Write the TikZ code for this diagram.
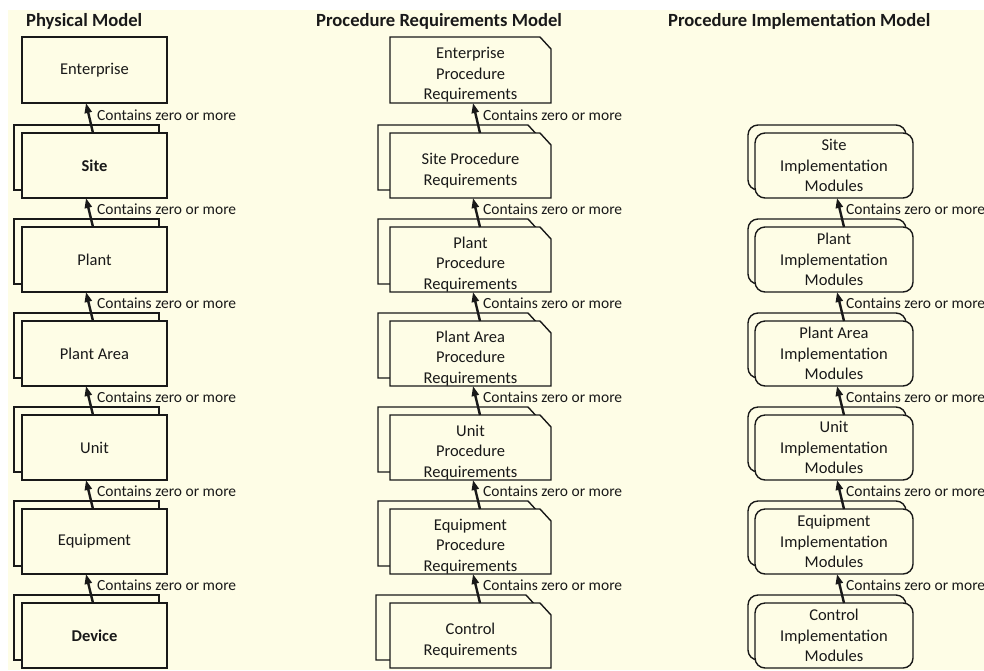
\documentclass[tikz,border=0pt]{standalone}
\usepackage{fontspec}
\setmainfont{Carlito}
\usetikzlibrary{arrows.meta,backgrounds}
\definecolor{bg}{RGB}{254,253,230}
\definecolor{ink}{RGB}{25,25,25}
\newcommand\chamf[1]{\filldraw[draw=ink,fill=bg,line width=1.4pt,line join=miter]
  (#1.north west) -- ([xshift=-11pt]#1.north east) -- ([yshift=-12pt]#1.north east)
  -- (#1.south east) -- (#1.south west) -- cycle;}
\begin{document}
\begin{tikzpicture}[x=1pt,y=-1pt,
  every node/.style={text=ink},
  boxframe/.style={draw=ink,line width=1.4pt,fill=bg,minimum height=65pt,inner sep=0pt,outer sep=0pt,anchor=north west,align=center,font=\fontsize{16.5}{20.5}\selectfont},
  phys/.style={boxframe,rectangle,minimum width=145pt},
  req/.style={boxframe,rectangle,draw=none,fill=none,minimum width=161pt},
  reqtext/.style={inner sep=0pt,align=center,font=\fontsize{16.5}{20.5}\selectfont,yshift=-5pt},
  impl/.style={boxframe,rectangle,rounded corners=10pt,minimum width=158pt},
  lbl/.style={anchor=west,inner sep=0pt,font=\fontsize{15.5}{18}\selectfont},
  conn/.style={draw=ink,line width=2.4pt,-{Triangle[length=10pt,width=7pt]}},
  ttl/.style={anchor=west,inner sep=0pt,font=\fontsize{18.6}{20}\selectfont\bfseries}]
\useasboundingbox (0,0) rectangle (984,670);

% titles
\node[ttl] (t1) at (26,21) {Physical Model};
\node[ttl] (t2) at (316,21) {Procedure Requirements Model};
\node[ttl] (t3) at (668,21) {Procedure Implementation Model};

% ---------- Physical model ----------
\node[phys,minimum height=66pt] (p0) at (22,37) {Enterprise};
\node[phys] (p1b) at (14,125) {};
\node[phys] (p1) at (22,133) {\bfseries Site};
\node[phys] (p2b) at (14,219) {};
\node[phys] (p2) at (22,227) {Plant};
\node[phys] (p3b) at (14,313) {};
\node[phys] (p3) at (22,321) {Plant Area};
\node[phys] (p4b) at (14,407) {};
\node[phys] (p4) at (22,415) {Unit};
\node[phys] (p5b) at (14,501) {};
\node[phys] (p5) at (22,509) {Equipment};
\node[phys] (p6b) at (14,595) {};
\node[phys] (p6) at (22,603) {\bfseries Device};

\foreach \a/\b in {p1/p0,p2/p1,p3/p2,p4/p3,p5/p4,p6/p5}
  \draw[conn] ([xshift=71pt]\a.north west) -- ([xshift=64pt]\b.south west);
\foreach \i/\y in {1/115,2/209,3/303,4/397,5/491,6/585}
  \node[lbl] (pl\i) at (97,\y) {Contains zero or more};

% ---------- Procedure requirements model ----------
\node[req,minimum height=66pt] (r0) at (390,37) {};
\node[req] (r1b) at (378,125) {};
\node[req] (r1) at (390,133) {};
\node[req] (r2b) at (378,219) {};
\node[req] (r2) at (390,227) {};
\node[req] (r3b) at (378,313) {};
\node[req] (r3) at (390,321) {};
\node[req] (r4b) at (378,407) {};
\node[req] (r4) at (390,415) {};
\node[req] (r5b) at (378,501) {};
\node[req] (r5) at (390,509) {};
\node[req] (r6b) at (376,595) {};
\node[req] (r6) at (390,603) {};

\node[reqtext] (r0t) at (r0.center) {Enterprise\\Procedure\\Requirements};
\node[reqtext] (r1t) at (r1.center) {Site Procedure\\Requirements};
\node[reqtext] (r2t) at (r2.center) {Plant\\Procedure\\Requirements};
\node[reqtext] (r3t) at (r3.center) {Plant Area\\Procedure\\Requirements};
\node[reqtext] (r4t) at (r4.center) {Unit\\Procedure\\Requirements};
\node[reqtext] (r5t) at (r5.center) {Equipment\\Procedure\\Requirements};
\node[reqtext] (r6t) at (r6.center) {Control\\Requirements};

\begin{scope}[on background layer]
  \fill[white] (0,0) rectangle (984,670);
  \fill[bg] (8,10) rectangle (984,670);
  \chamf{r0}
  \foreach \i in {1,...,6} {\chamf{r\i b}\chamf{r\i}}
\end{scope}

\foreach \a/\b in {r1/r0,r2/r1,r3/r2,r4/r3,r5/r4,r6/r5}
  \draw[conn] ([xshift=90pt]\a.north west) -- ([xshift=83pt]\b.south west);
\foreach \i/\y in {1/115,2/209,3/303,4/397,5/491,6/585}
  \node[lbl] (rl\i) at (483,\y) {Contains zero or more};

% ---------- Procedure implementation model ----------
\node[impl] (m1b) at (748,125) {};
\node[impl] (m1) at (755,133) {Site\\Implementation\\Modules};
\node[impl] (m2b) at (748,219) {};
\node[impl] (m2) at (755,227) {Plant\\Implementation\\Modules};
\node[impl] (m3b) at (748,313) {};
\node[impl] (m3) at (755,321) {Plant Area\\Implementation\\Modules};
\node[impl] (m4b) at (748,407) {};
\node[impl] (m4) at (755,415) {Unit\\Implementation\\Modules};
\node[impl] (m5b) at (748,501) {};
\node[impl] (m5) at (755,509) {Equipment\\Implementation\\Modules};
\node[impl] (m6b) at (748,595) {};
\node[impl] (m6) at (755,603) {Control\\Implementation\\Modules};

\foreach \a/\b in {m2/m1,m3/m2,m4/m3,m5/m4,m6/m5}
  \draw[conn] ([xshift=89pt]\a.north west) -- ([xshift=82pt]\b.south west);
\foreach \i/\y in {2/209,3/303,4/397,5/491,6/585}
  \node[lbl] (ml\i) at (846,\y) {Contains zero or more};
\end{tikzpicture}
\end{document}
